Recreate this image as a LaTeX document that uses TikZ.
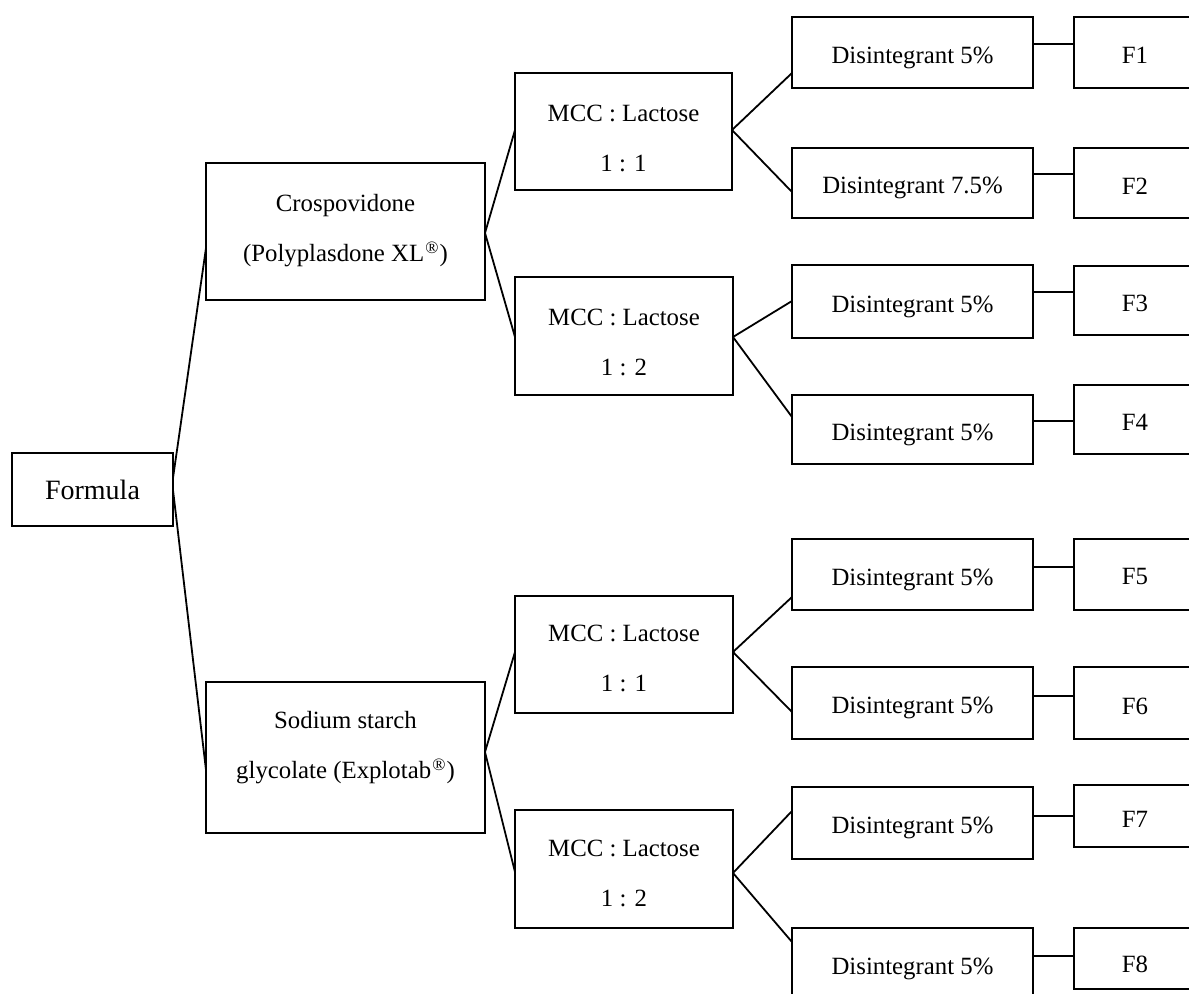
\documentclass[tikz,border=0pt]{standalone}
\usepackage{fontspec}
\setmainfont{Liberation Serif}
\begin{document}
\begin{tikzpicture}[x=0.5pt,y=-0.5pt,
  box/.style={draw, line width=0.9pt, anchor=north west, inner sep=0pt, outer sep=0pt},
  txt/.style={font=\fontsize{12.4}{25}\selectfont, align=center, inner sep=0pt},
  big/.style={font=\fontsize{14}{17}\selectfont, inner sep=0pt},
  conn/.style={line width=0.9pt}]
\clip (0,0) rectangle (1189,994);
% boxes
\node[box, minimum width=80.5pt, minimum height=36.5pt] (formula) at (12,453) {};
\node[box, minimum width=139.5pt, minimum height=68.5pt] (crosp) at (206,163) {};
\node[box, minimum width=139.5pt, minimum height=75.5pt] (sodium) at (206,682) {};
\node[box, minimum width=108.5pt, minimum height=58.5pt] (mcc1) at (515,73) {};
\node[box, minimum width=109pt, minimum height=59pt] (mcc2) at (515,277) {};
\node[box, minimum width=109pt, minimum height=58.5pt] (mcc3) at (515,596) {};
\node[box, minimum width=109pt, minimum height=59pt] (mcc4) at (515,810) {};
\node[box, minimum width=120.5pt, minimum height=35.5pt] (dis1) at (792,17) {};
\node[box, minimum width=120.5pt, minimum height=35pt] (dis2) at (792,148) {};
\node[box, minimum width=120.5pt, minimum height=36.5pt] (dis3) at (792,265) {};
\node[box, minimum width=120.5pt, minimum height=34.5pt] (dis4) at (792,395) {};
\node[box, minimum width=120.5pt, minimum height=35.5pt] (dis5) at (792,539) {};
\node[box, minimum width=120.5pt, minimum height=36pt] (dis6) at (792,667) {};
\node[box, minimum width=120.5pt, minimum height=36pt] (dis7) at (792,787) {};
\node[box, minimum width=120.5pt, minimum height=36pt] (dis8) at (792,928) {};
\node[box, minimum width=61pt, minimum height=35.5pt] (f1) at (1074,17) {};
\node[box, minimum width=61pt, minimum height=35pt] (f2) at (1074,148) {};
\node[box, minimum width=61pt, minimum height=34.5pt] (f3) at (1074,266) {};
\node[box, minimum width=61pt, minimum height=34.5pt] (f4) at (1074,385) {};
\node[box, minimum width=61pt, minimum height=35.5pt] (f5) at (1074,539) {};
\node[box, minimum width=61pt, minimum height=36pt] (f6) at (1074,667) {};
\node[box, minimum width=61pt, minimum height=31pt] (f7) at (1074,785) {};
\node[box, minimum width=61pt, minimum height=30.5pt] (f8) at (1074,928) {};
% texts
\node[big] (tformula) at (formula.center) {Formula};
\node[txt] (tcrosp) at (345.5,231) {Crospovidone\\(Polyplasdone XL\kern0.6pt\textsuperscript{\textregistered})};
\node[txt] (tsodium) at (345.5,748) {Sodium starch\\glycolate (Explotab\kern0.6pt\textsuperscript{\textregistered})};
\node[txt] (tmcc1) at (623.5,138) {MCC : Lactose\\1 : 1};
\node[txt] (tmcc2) at (624,342) {MCC : Lactose\\1 : 2};
\node[txt] (tmcc3) at (624,658) {MCC : Lactose\\1 : 1};
\node[txt] (tmcc4) at (624,873) {MCC : Lactose\\1 : 2};
\node[txt] (tdis1) at ([yshift=-2.5pt]dis1.center) {Disintegrant 5\%};
\node[txt] (tdis2) at ([yshift=-2.5pt]dis2.center) {Disintegrant 7.5\%};
\node[txt] (tdis3) at ([yshift=-2.5pt]dis3.center) {Disintegrant 5\%};
\node[txt] (tdis4) at ([yshift=-2.5pt]dis4.center) {Disintegrant 5\%};
\node[txt] (tdis5) at ([yshift=-2.5pt]dis5.center) {Disintegrant 5\%};
\node[txt] (tdis6) at ([yshift=-2.5pt]dis6.center) {Disintegrant 5\%};
\node[txt] (tdis7) at ([yshift=-2.5pt]dis7.center) {Disintegrant 5\%};
\node[txt] (tdis8) at ([yshift=-2.5pt]dis8.center) {Disintegrant 5\%};
\node[txt] (tf1) at (1135,55) {F1};
\node[txt] (tf2) at (1135,186) {F2};
\node[txt] (tf3) at (1135,303) {F3};
\node[txt] (tf4) at (1135,422) {F4};
\node[txt] (tf5) at (1135,577) {F5};
\node[txt] (tf6) at (1135,706) {F6};
\node[txt] (tf7) at (1135,819) {F7};
\node[txt] (tf8) at (1135,964) {F8};
% connectors
\draw[conn] (formula.east |- 0,478) -- (crosp.west |- 0,248);
\draw[conn] (formula.east |- 0,490) -- (sodium.west |- 0,770);
\draw[conn] (crosp.east |- 0,233) -- (mcc1.west |- 0,130);
\draw[conn] (crosp.east |- 0,233) -- (mcc2.west |- 0,337);
\draw[conn] (sodium.east |- 0,752) -- (mcc3.west |- 0,652);
\draw[conn] (sodium.east |- 0,752) -- (mcc4.west |- 0,872);
\draw[conn] (mcc1.east |- 0,130) -- (dis1.west |- 0,73);
\draw[conn] (mcc1.east |- 0,130) -- (dis2.west |- 0,192);
\draw[conn] (mcc2.east |- 0,337) -- (dis3.west |- 0,301);
\draw[conn] (mcc2.east |- 0,337) -- (dis4.west |- 0,417);
\draw[conn] (mcc3.east |- 0,652) -- (dis5.west |- 0,597);
\draw[conn] (mcc3.east |- 0,652) -- (dis6.west |- 0,712);
\draw[conn] (mcc4.east |- 0,873) -- (dis7.west |- 0,811);
\draw[conn] (mcc4.east |- 0,873) -- (dis8.west |- 0,942);
\draw[conn] (dis1.east |- 0,44) -- (f1.west |- 0,44);
\draw[conn] (dis2.east |- 0,174) -- (f2.west |- 0,174);
\draw[conn] (dis3.east |- 0,292) -- (f3.west |- 0,292);
\draw[conn] (dis4.east |- 0,421) -- (f4.west |- 0,421);
\draw[conn] (dis5.east |- 0,567) -- (f5.west |- 0,567);
\draw[conn] (dis6.east |- 0,696) -- (f6.west |- 0,696);
\draw[conn] (dis7.east |- 0,816) -- (f7.west |- 0,816);
\draw[conn] (dis8.east |- 0,956) -- (f8.west |- 0,956);
\end{tikzpicture}
\end{document}
